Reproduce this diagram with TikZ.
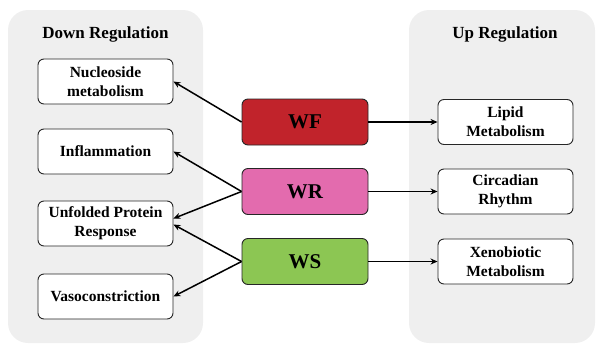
\documentclass[tikz,border=0pt]{standalone}
\usepackage{fontspec}
\setmainfont{Liberation Serif}
\usetikzlibrary{calc,arrows.meta}
\definecolor{panelgray}{HTML}{EFEFEF}
\definecolor{wfred}{HTML}{C1232B}
\definecolor{wrpink}{HTML}{E36BAE}
\definecolor{wsgreen}{HTML}{8CC653}
\tikzset{
  panel/.style={fill=panelgray, rounded corners=20pt},
  ttl/.style={font=\fontsize{17}{19}\selectfont\bfseries},
  item/.style={draw=black!85, line width=0.9pt, fill=white, rounded corners=6pt,
    minimum width=135pt, minimum height=45pt, align=center, inner sep=1pt,
    font=\fontsize{15.5}{19}\selectfont\bfseries},
  grp/.style={draw=black!85, line width=0.9pt, rounded corners=6pt,
    minimum width=126pt, minimum height=46pt,
    font=\fontsize{21}{23}\selectfont\bfseries},
  arr/.style={-{Stealth[length=7pt,width=6pt]}, line width=1.5pt}
}
\begin{document}
\begin{tikzpicture}[x=1pt,y=-1pt]
\useasboundingbox (0,0) rectangle (597,346);
\fill[panel] (8,10) rectangle (203,343);
\fill[panel] (409,10) rectangle (595,343);
\node[ttl] (down) at (105.5,34) {Down Regulation};
\node[ttl] (up) at (505,34) {Up Regulation};
\node[item] (nuc) at (105.5,81.5) {Nucleoside\\metabolism};
\node[item] (inf) at (105.5,151.5) {Inflammation};
\node[item] (upr) at (105.5,223.5) {Unfolded Protein\\Response};
\node[item] (vas) at (105.5,296.5) {Vasoconstriction};
\node[item] (lip) at (505.5,122) {Lipid\\Metabolism};
\node[item] (cir) at (505.5,191.5) {Circadian\\Rhythm};
\node[item] (xen) at (505.5,261.5) {Xenobiotic\\Metabolism};
\node[grp, fill=wfred] (wf) at (305,122) {WF};
\node[grp, fill=wrpink] (wr) at (305,191.5) {WR};
\node[grp, fill=wsgreen] (ws) at (305,261.5) {WS};
\draw[arr] (wf.west) -- (nuc.east);
\draw[arr] (wr.west) -- (inf.east);
\draw[arr] (wr.west) -- ($(upr.east)+(0,-5)$);
\draw[arr] (ws.west) -- ($(upr.east)+(0,1)$);
\draw[arr] (ws.west) -- (vas.east);
\draw[arr] (wf.east) -- (lip.west);
\draw[arr] (wr.east) -- (cir.west);
\draw[arr] (ws.east) -- (xen.west);
\end{tikzpicture}
\end{document}
